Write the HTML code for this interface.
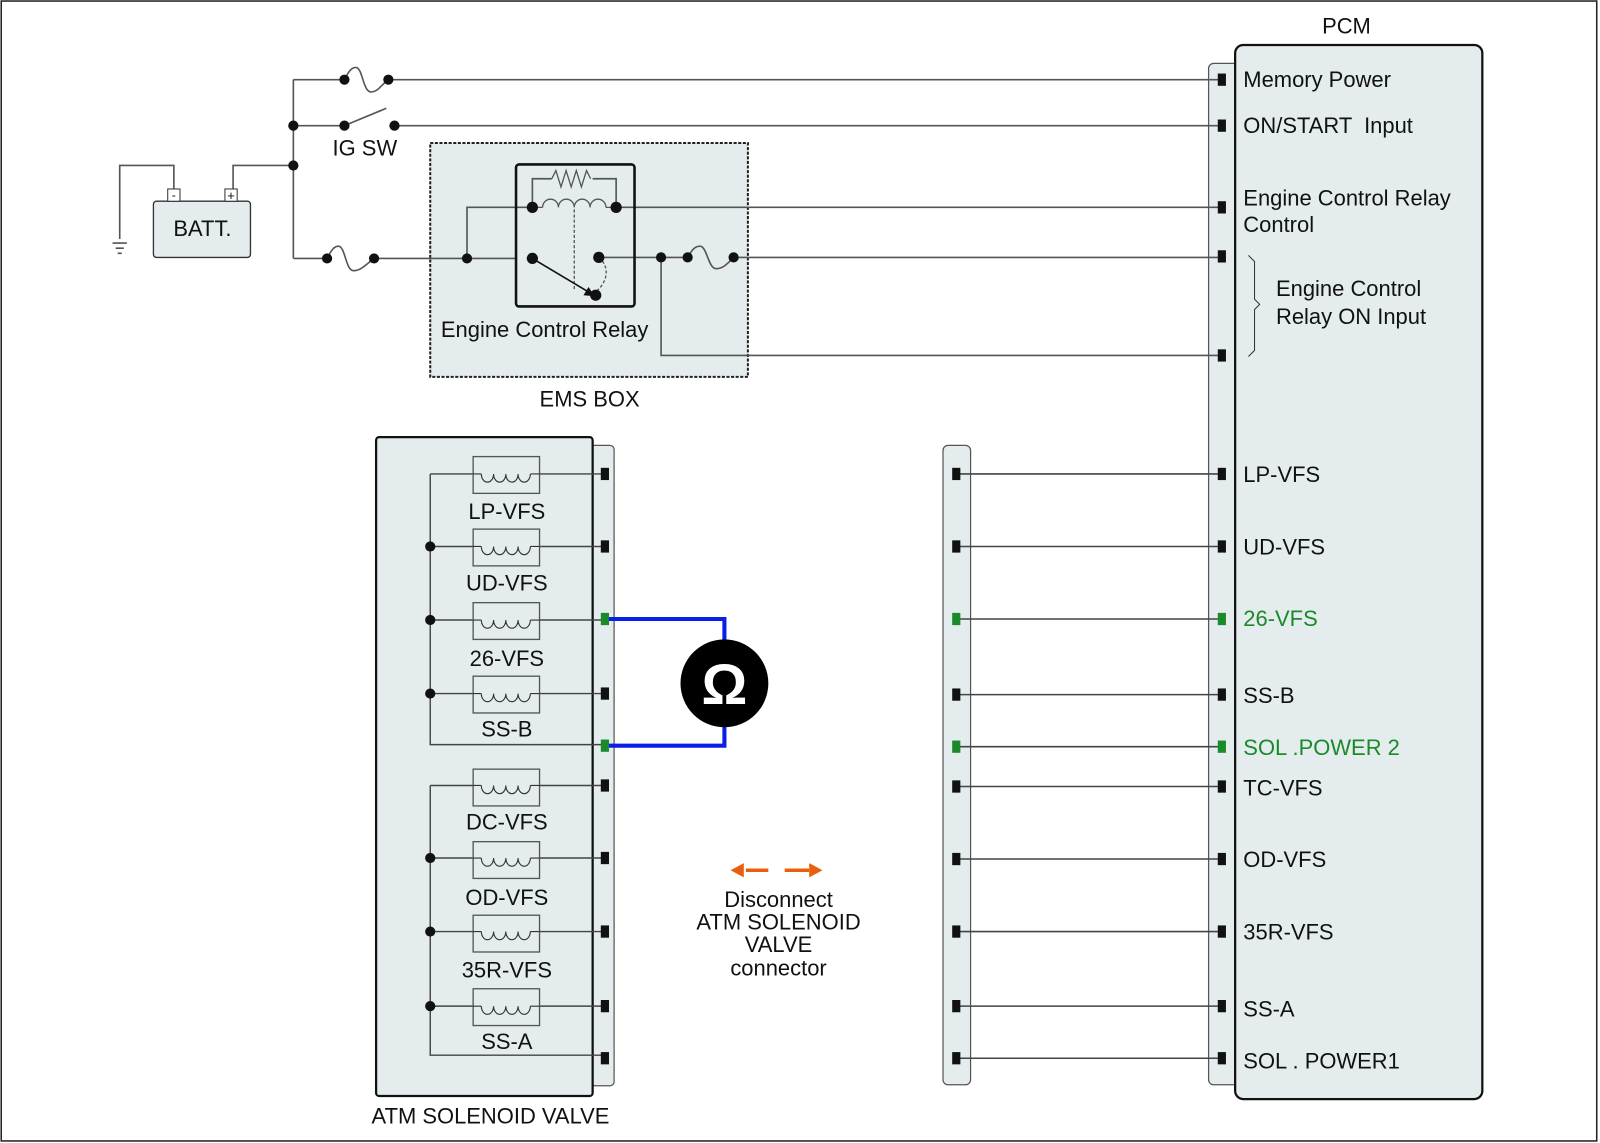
<!DOCTYPE html>
<html><head><meta charset="utf-8"><style>
html,body{margin:0;padding:0;background:#fff}
svg{display:block}
text{font-family:"Liberation Sans",Arial,sans-serif;font-size:21.5px;fill:#111}
</style></head><body>
<svg width="1600" height="1143" viewBox="0 0 1566 1119" xmlns="http://www.w3.org/2000/svg">
<rect x="1" y="1" width="1562" height="1116" fill="#fff" stroke="#222" stroke-width="1.5"/>

<!-- PCM -->
<text x="1318" y="33" text-anchor="middle">PCM</text>
<rect x="1183" y="62" width="30" height="1000" rx="5" fill="#e4ecee" stroke="#555" stroke-width="1.2"/>
<rect x="1209" y="44" width="242" height="1032" rx="8" fill="#e4ecee" stroke="#111" stroke-width="2.2"/>

<!-- middle connector -->
<rect x="923" y="436" width="27" height="626" rx="5" fill="#e4ecee" stroke="#555" stroke-width="1.2"/>

<!-- EMS BOX -->
<rect x="421" y="140" width="311" height="229" fill="#e4ecee" stroke="#222" stroke-width="2" stroke-dasharray="3,1.5"/>
<text x="577" y="398" text-anchor="middle">EMS BOX</text>

<!-- ATM box -->
<rect x="578" y="436" width="23" height="627" rx="4" fill="#e4ecee" stroke="#555" stroke-width="1.2"/>
<rect x="368" y="428" width="212" height="645" rx="3" fill="#e4ecee" stroke="#111" stroke-width="2.2"/>
<text x="480" y="1100" text-anchor="middle">ATM SOLENOID VALVE</text>

<g stroke="#555" stroke-width="1.6" fill="none">
<path d="M287,78 V253"/>
<path d="M287,78 H337 M380,78 H1193"/>
<path d="M337,78 c4,-8 7,-12 11,-12 c7,0 7,24 15,24 c7,0 10,-7 17,-12" />
<path d="M287,123 H337 M386,123 H1193"/>
<path d="M337,123 L378,106"/>
<path d="M228,185 V162 H287"/>
<path d="M170,185 V162 H117 V234"/>
<path d="M110,238 H124 M113,243 H121 M115,248 H119"/>
<path d="M287,253 H320 M366,253 H505"/>
<path d="M320,253 c4,-8 7,-12 11,-12 c7,0 7,24 15,24 c7,0 12,-6 20,-12"/>
<path d="M457,253 V203 H521"/>
<path d="M603,203 H1193"/>
<path d="M521,203 V175 H540 M580,175 H603 V203"/>
<path d="M540,175 l4,-8 l5,16 l5,-16 l5,16 l5,-16 l5,16 l5,-16 l4,8" stroke-width="1.3"/>
<path d="M531,203 a7.75,8 0 0 1 15.5,0 a7.75,8 0 0 1 15.5,0 a7.75,8 0 0 1 15.5,0 a7.75,8 0 0 1 15.5,0" stroke-width="1.3"/>
<path d="M521,203 H531 M593,203 H603" stroke-width="1.3"/>
<path d="M586,252 H673 M718,252 H1193"/>
<path d="M673,252 c4,-7 7,-11 12,-11 c7,0 8,22 16,22 c7,0 11,-5 17,-11"/>
<path d="M647,252 V348 H1193"/>
<path d="M562,205 V285" stroke-dasharray="3,2" stroke-width="1.3"/>
<path d="M586,252 c10,8 10,22 -2,33" stroke-dasharray="3,2" stroke-width="1.3"/>
</g>
<path d="M521,253 L578,287" stroke="#111" stroke-width="1.6"/>
<path d="M582,290 l-11,-1 l5,-8 z" fill="#111"/>
<rect x="505" y="161" width="116" height="139" rx="3" fill="none" stroke="#111" stroke-width="2.5"/>
<text x="357" y="152" text-anchor="middle">IG SW</text>
<text x="533" y="330" text-anchor="middle">Engine Control Relay</text>

<!-- battery -->
<rect x="150" y="197" width="95" height="55" rx="3" fill="#e4ecee" stroke="#333" stroke-width="1.3"/>
<rect x="164" y="185" width="12" height="12" fill="#fff" stroke="#333"/>
<rect x="220" y="185" width="12" height="12" fill="#fff" stroke="#333"/>
<text x="170" y="195" text-anchor="middle" style="font-size:12px">-</text>
<text x="226" y="196" text-anchor="middle" style="font-size:13px">+</text>
<text x="198" y="231" text-anchor="middle">BATT.</text>

<g fill="#111">
<circle cx="287" cy="123" r="5"/><circle cx="287" cy="162" r="5"/>
<circle cx="337" cy="78" r="5"/><circle cx="380" cy="78" r="5"/>
<circle cx="337" cy="123" r="5"/><circle cx="386" cy="123" r="5"/>
<circle cx="320" cy="253" r="5"/><circle cx="366" cy="253" r="5"/>
<circle cx="457" cy="253" r="5"/><circle cx="521" cy="253" r="5.5"/>
<circle cx="521" cy="203" r="5.5"/><circle cx="603" cy="203" r="5.5"/>
<circle cx="586" cy="252" r="5.5"/><circle cx="583" cy="289" r="5.5"/>
<circle cx="647" cy="252" r="5"/><circle cx="673" cy="252" r="5"/><circle cx="718" cy="252" r="5"/>
</g>

<!-- PCM pins & labels -->
<g fill="#111">
<rect x="1192" y="72" width="8" height="12"/><rect x="1192" y="117" width="8" height="12"/>
<rect x="1192" y="197" width="8" height="12"/><rect x="1192" y="245" width="8" height="12"/>
<rect x="1192" y="342" width="8" height="12"/>
</g>
<text x="1217" y="85">Memory Power</text>
<text x="1217" y="130" xml:space="preserve">ON/START  Input</text>
<text x="1217" y="201">Engine Control Relay</text>
<text x="1217" y="227">Control</text>
<path d="M1222,250 l6,6 V293 l5,5 l-5,5 V343 l-6,6" fill="none" stroke="#333" stroke-width="1"/>
<text x="1249" y="290">Engine Control</text>
<text x="1249" y="317">Relay ON Input</text>

<!-- rows -->
<g stroke="#444" stroke-width="1.5">
<path d="M936,464 H1193 M936,535 H1193 M936,606 H1193 M936,680 H1193 M936,731 H1193 M936,770 H1193 M936,841 H1193 M936,912 H1193 M936,985 H1193 M936,1036 H1193"/>
</g>
<g fill="#111">
<rect x="1192" y="458" width="8" height="12"/><rect x="932" y="458" width="8" height="12"/>
<rect x="1192" y="529" width="8" height="12"/><rect x="932" y="529" width="8" height="12"/>
<rect x="1192" y="674" width="8" height="12"/><rect x="932" y="674" width="8" height="12"/>
<rect x="1192" y="764" width="8" height="12"/><rect x="932" y="764" width="8" height="12"/>
<rect x="1192" y="835" width="8" height="12"/><rect x="932" y="835" width="8" height="12"/>
<rect x="1192" y="906" width="8" height="12"/><rect x="932" y="906" width="8" height="12"/>
<rect x="1192" y="979" width="8" height="12"/><rect x="932" y="979" width="8" height="12"/>
<rect x="1192" y="1030" width="8" height="12"/><rect x="932" y="1030" width="8" height="12"/>
</g>
<g fill="#1a8a2a">
<rect x="1192" y="600" width="8" height="12"/><rect x="932" y="600" width="8" height="12"/>
<rect x="1192" y="725" width="8" height="12"/><rect x="932" y="725" width="8" height="12"/>
</g>
<text x="1217" y="472">LP-VFS</text>
<text x="1217" y="543">UD-VFS</text>
<text x="1217" y="613" style="fill:#1a8a2a">26-VFS</text>
<text x="1217" y="688">SS-B</text>
<text x="1217" y="739" style="fill:#1a8a2a">SOL .POWER 2</text>
<text x="1217" y="779">TC-VFS</text>
<text x="1217" y="849">OD-VFS</text>
<text x="1217" y="920">35R-VFS</text>
<text x="1217" y="995">SS-A</text>
<text x="1217" y="1046">SOL . POWER1</text>

<!-- ATM internals -->
<g stroke="#444" stroke-width="1.4" fill="none">
<path d="M421,464 V729 H590"/>
<path d="M421,769 V1033 H590"/>
<path d="M421,464 H463 M528,464 H590"/>
<path d="M421,535 H463 M528,535 H590"/>
<path d="M421,607 H463 M528,607 H590"/>
<path d="M421,679 H463 M528,679 H590"/>
<path d="M421,769 H463 M528,769 H590"/>
<path d="M421,840 H463 M528,840 H590"/>
<path d="M421,912 H463 M528,912 H590"/>
<path d="M421,985 H463 M528,985 H590"/>
</g>
<g stroke="#555" stroke-width="1.3" fill="none">
<rect x="463" y="447" width="65" height="36"/>
<rect x="463" y="518" width="65" height="36"/>
<rect x="463" y="590" width="65" height="36"/>
<rect x="463" y="662" width="65" height="36"/>
<rect x="463" y="753" width="65" height="36"/>
<rect x="463" y="824" width="65" height="36"/>
<rect x="463" y="896" width="65" height="36"/>
<rect x="463" y="968" width="65" height="36"/>
</g>
<g stroke="#333" stroke-width="1.1" fill="none">
<path d="M463,464 H471 M519,464 H528 M471,464 a6,8 0 0 0 12,0 a6,8 0 0 0 12,0 a6,8 0 0 0 12,0 a6,8 0 0 0 12,0"/>
<path d="M463,535 H471 M519,535 H528 M471,535 a6,8 0 0 0 12,0 a6,8 0 0 0 12,0 a6,8 0 0 0 12,0 a6,8 0 0 0 12,0"/>
<path d="M463,607 H471 M519,607 H528 M471,607 a6,8 0 0 0 12,0 a6,8 0 0 0 12,0 a6,8 0 0 0 12,0 a6,8 0 0 0 12,0"/>
<path d="M463,679 H471 M519,679 H528 M471,679 a6,8 0 0 0 12,0 a6,8 0 0 0 12,0 a6,8 0 0 0 12,0 a6,8 0 0 0 12,0"/>
<path d="M463,769 H471 M519,769 H528 M471,769 a6,8 0 0 0 12,0 a6,8 0 0 0 12,0 a6,8 0 0 0 12,0 a6,8 0 0 0 12,0"/>
<path d="M463,840 H471 M519,840 H528 M471,840 a6,8 0 0 0 12,0 a6,8 0 0 0 12,0 a6,8 0 0 0 12,0 a6,8 0 0 0 12,0"/>
<path d="M463,912 H471 M519,912 H528 M471,912 a6,8 0 0 0 12,0 a6,8 0 0 0 12,0 a6,8 0 0 0 12,0 a6,8 0 0 0 12,0"/>
<path d="M463,985 H471 M519,985 H528 M471,985 a6,8 0 0 0 12,0 a6,8 0 0 0 12,0 a6,8 0 0 0 12,0 a6,8 0 0 0 12,0"/>
</g>
<g fill="#111">
<circle cx="421" cy="535" r="5"/><circle cx="421" cy="607" r="5"/><circle cx="421" cy="679" r="5"/>
<circle cx="421" cy="840" r="5"/><circle cx="421" cy="912" r="5"/><circle cx="421" cy="985" r="5"/>
<rect x="588" y="458" width="8" height="12"/><rect x="588" y="529" width="8" height="12"/>
<rect x="588" y="673" width="8" height="12"/><rect x="588" y="763" width="8" height="12"/>
<rect x="588" y="834" width="8" height="12"/><rect x="588" y="906" width="8" height="12"/>
<rect x="588" y="979" width="8" height="12"/><rect x="588" y="1030" width="8" height="12"/>
</g>
<text x="496" y="508" text-anchor="middle">LP-VFS</text>
<text x="496" y="578" text-anchor="middle">UD-VFS</text>
<text x="496" y="652" text-anchor="middle">26-VFS</text>
<text x="496" y="721" text-anchor="middle">SS-B</text>
<text x="496" y="812" text-anchor="middle">DC-VFS</text>
<text x="496" y="886" text-anchor="middle">OD-VFS</text>
<text x="496" y="957" text-anchor="middle">35R-VFS</text>
<text x="496" y="1027" text-anchor="middle">SS-A</text>

<!-- meter -->
<path d="M594,606 H709 V630 M709,710 V730 H594" fill="none" stroke="#0a1ee6" stroke-width="4"/>
<g fill="#1a8a2a"><rect x="588" y="600" width="8" height="12"/><rect x="588" y="724" width="8" height="12"/></g>
<circle cx="709" cy="669" r="43" fill="#000"/>
<text x="709" y="689" text-anchor="middle" style="font-size:56px;font-weight:bold;fill:#fff">Ω</text>

<!-- arrows -->
<g fill="#e8600f" stroke="#e8600f">
<path d="M730,852 H752" stroke-width="3.5"/><path d="M715,852 l13,-7 v14 z" stroke="none"/>
<path d="M768,852 H792" stroke-width="3.5"/><path d="M805,852 l-13,-7 v14 z" stroke="none"/>
</g>
<text x="762" y="888" text-anchor="middle">Disconnect</text>
<text x="762" y="910" text-anchor="middle">ATM SOLENOID</text>
<text x="762" y="932" text-anchor="middle">VALVE</text>
<text x="762" y="955" text-anchor="middle">connector</text>
</svg>
</body></html>
